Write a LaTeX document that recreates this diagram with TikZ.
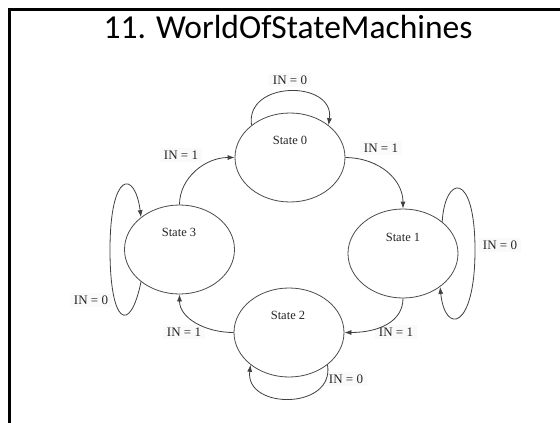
\documentclass[tikz,border=0pt]{standalone}
\usepackage{fontspec}
\setmainfont{Liberation Serif}
\newfontfamily\titlefont{Carlito}
\usetikzlibrary{shapes.geometric,arrows.meta}

\tikzset{
  statenode/.style={ellipse, draw=black!70, line width=0.8pt, inner sep=0pt,
    minimum width=110pt, minimum height=89pt},
  statename/.style={font=\fontsize{12.5}{14}\selectfont, text=black!85, inner sep=0pt},
  translabel/.style={font=\fontsize{13}{15}\selectfont, text=black!85, fill=black!2,
    inner xsep=4pt, inner ysep=3pt},
  transition/.style={draw=black!75, line width=0.8pt,
    -{Latex[length=7pt,width=5pt]}},
}

\begin{document}
\begin{tikzpicture}[x=1pt,y=-1pt]
\useasboundingbox (0,0) rectangle (560,423);
\fill[white] (0,0) rectangle (560,423);

% slide frame
\draw[line width=3pt, line join=miter] (9,423) -- (9,9) -- (560,9);

% heading
\node[font=\titlefont\fontsize{33.5}{38}\selectfont, anchor=base, inner sep=0pt]
  (title) at (288,38) {11. WorldOfStateMachines};

% states
\node[statenode] (s0) at (290,157.5) {};
\node[statenode] (s1) at (403,253.5) {};
\node[statenode] (s2) at (289,332.5) {};
\node[statenode] (s3) at (179.5,249.5) {};

\node[statename] (n0) at (290,140) {State 0};
\node[statename] (n1) at (403,237) {State 1};
\node[statename] (n2) at (288,315) {State 2};
\node[statename] (n3) at (179,232) {State 3};

% transition labels
\node[translabel] (l00) at (290,80)  {IN = 0};
\node[translabel] (l01) at (381,148) {IN = 1};
\node[translabel] (l30) at (181,155) {IN = 1};
\node[translabel] (l33) at (91,300)  {IN = 0};
\node[translabel] (l23) at (184,332) {IN = 1};
\node[translabel] (l12) at (396,332) {IN = 1};
\node[translabel] (l11) at (500,245) {IN = 0};
\node[translabel] (l22) at (346,379) {IN = 0};

% transitions between states
\draw[transition] (s0.east) .. controls (380,158) and (403,180) .. (s1.north);
\draw[transition] (s1.south) .. controls (403,322) and (378,332.5) .. (s2.east);
\draw[transition] (s2.west) .. controls (205,332.5) and (179.5,318) .. (s3.south);
\draw[transition] (s3.north) .. controls (179.5,178) and (205,157.5) .. (s0.west);

% self loops
\draw[transition] (s0.140) .. controls (245,80) and (335,80) .. (s0.40);
\draw[transition] (s1.39) .. controls (445,175) and (475,170) .. (475,250)
  .. controls (475,330) and (445,335) .. (s1.318);
\draw[transition] (s2.320) .. controls (335,410) and (245,410) .. (s2.220);
\draw[transition] (s3.220) .. controls (130,335) and (110,325) .. (110,250)
  .. controls (110,170) and (135,170) .. (s3.140);
\end{tikzpicture}
\end{document}
